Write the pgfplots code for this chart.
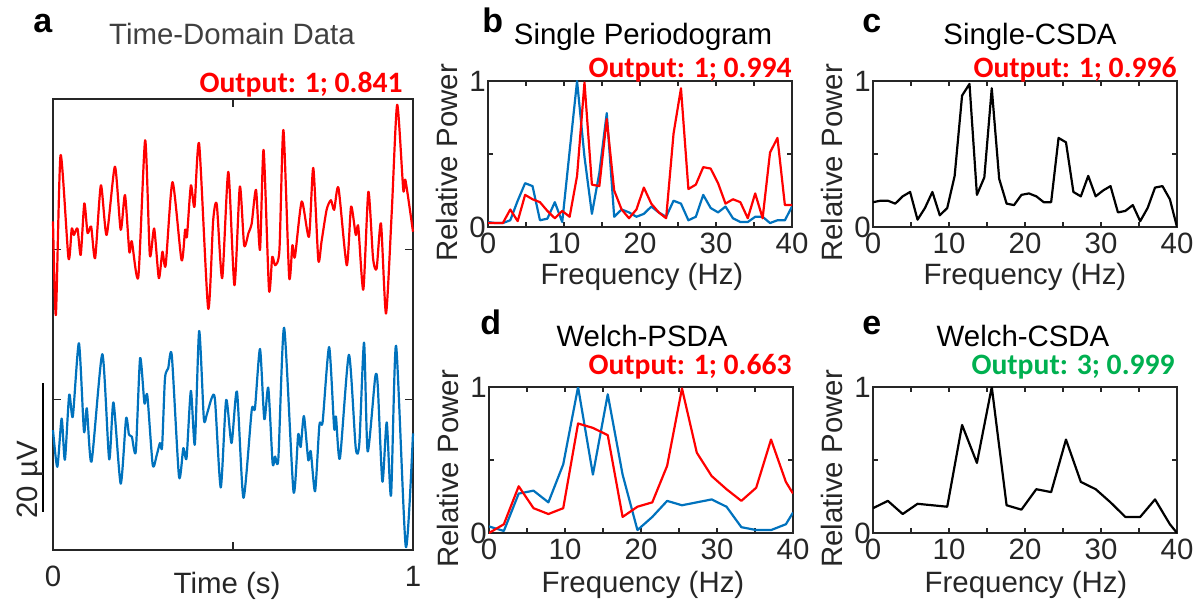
\documentclass[border=0pt]{standalone}
\usepackage{fontspec}
\setmainfont{Liberation Sans}
\newfontfamily\calibri{Carlito}
\usepackage{pgfplots}
\usepackage{pgfplotstable}
\pgfplotsset{compat=1.18}

\definecolor{mred}{rgb}{1,0,0}
\definecolor{mblue}{rgb}{0,0.447,0.741}
\definecolor{ogreen}{RGB}{0,176,80}
\definecolor{axgray}{rgb}{0.15,0.15,0.15}
\newcommand\lbl{\fontsize{14.7}{16}\selectfont}
\newcommand\outp{\calibri\bfseries\fontsize{14.8}{16}\selectfont}
\newcommand\letter{\bfseries\fontsize{17}{19}\selectfont}

% single periodogram / single-CSDA (df = 0.977 Hz)
\pgfplotstableread{
f      blue  red   csda
0      0.034 0.027 0.17
0.977  0.027 0.027 0.18
1.953  0.027 0.027 0.18
2.930  0.046 0.12  0.16
3.906  0.18  0.04  0.21
4.883  0.30  0.22  0.24
5.859  0.28  0.19  0.05
6.836  0.046 0.17  0.13
7.813  0.057 0.11  0.24
8.789  0.17  0.06  0.08
9.766  0.034 0.11  0.13
10.742 0.52  0.07  0.35
11.719 1.00  0.35  0.90
12.695 0.48  0.99  0.98
13.672 0.09  0.29  0.22
14.648 0.37  0.28  0.34
15.625 0.78  0.74  0.95
16.602 0.07  0.25  0.33
17.578 0.12  0.12  0.16
18.555 0.10  0.06  0.15
19.531 0.07  0.12  0.22
20.508 0.09  0.27  0.23
21.484 0.14  0.16  0.21
22.461 0.10  0.10  0.17
23.438 0.07  0.06  0.17
24.414 0.18  0.64  0.61
25.391 0.16  0.95  0.58
26.367 0.046 0.26  0.24
27.344 0.07  0.29  0.21
28.320 0.22  0.41  0.35
29.297 0.13  0.40  0.21
30.273 0.10  0.30  0.25
31.250 0.14  0.16  0.28
32.227 0.06  0.19  0.10
33.203 0.034 0.17  0.11
34.180 0.034 0.06  0.15
35.156 0.07  0.23  0.04
36.133 0.07  0.06  0.13
37.109 0.027 0.51  0.27
38.086 0.046 0.61  0.28
39.063 0.046 0.15  0.19
40     0.14  0.15  0.00
}\single

% Welch-PSDA / Welch-CSDA (df = 1.953 Hz)
\pgfplotstableread{
f      blue  red   csda
0      0.045 0.00  0.17
1.953  0.014 0.06  0.22
3.906  0.27  0.32  0.13
5.859  0.29  0.17  0.20
7.813  0.21  0.13  0.19
9.766  0.47  0.17  0.18
11.719 1.00  0.75  0.74
13.672 0.40  0.72  0.48
15.625 0.95  0.67  1.00
17.578 0.40  0.11  0.19
19.531 0.02  0.18  0.16
21.484 0.11  0.21  0.30
23.438 0.22  0.46  0.28
25.391 0.19  0.99  0.64
27.344 0.21  0.55  0.35
29.297 0.23  0.39  0.30
31.250 0.18  0.30  0.21
33.203 0.04  0.22  0.11
35.156 0.02  0.31  0.11
37.109 0.02  0.64  0.23
39.063 0.06  0.35  0.06
40     0.14  0.27  0.00
}\welch

\pgfplotsset{
  box/.style={scale only axis, tick align=inside, tick pos=both,
    axis line style={axgray, line width=0.8pt}, tick style={axgray, line width=0.8pt},
    ticklabel style={font=\lbl, text=axgray}},
  spec/.style={box, width=152pt, height=73pt, xmin=0, xmax=40, ymin=0, ymax=1,
    xtick={0,5,...,40}, xticklabels={0,,10,,20,,30,,40},
    ytick={0,0.5,1}, yticklabels={0,,1}, major tick length=2.5pt,
    xticklabel style={inner sep=0pt, yshift=-3pt},
    yticklabel style={inner sep=0pt, xshift=-1pt}},
  trace/.style={line width=1.1pt, line join=round}
}

\begin{document}
\begin{tikzpicture}
\path[use as bounding box] (0,0) rectangle (601pt,-301.5pt);

% a: time-domain data (µV, offset traces)
\begin{axis}[box, at={(26.5pt,-275pt)}, anchor=south west, width=180pt, height=225.5pt,
  xmin=0, xmax=1, ymin=0, ymax=70, xtick={0,0.5,1}, xticklabels={0,,1},
  ytick={23.333,46.667}, yticklabels={,}, major tick length=4pt,
  xticklabel style={inner sep=0pt, yshift=-8pt}, clip=false]
\addplot[trace, mred, smooth, tension=0.4] coordinates {
(0.000,51.0)(0.008,36.5)(0.021,61.3)(0.043,45.3)(0.052,49.9)(0.058,48.9)(0.068,49.9)
(0.077,45.8)(0.087,53.8)(0.096,49.2)(0.106,50.2)(0.117,45.3)(0.133,56.6)(0.149,48.9)
(0.172,59.5)(0.188,49.7)(0.200,55.1)(0.212,46.3)(0.219,47.9)(0.237,42.4)(0.256,63.6)
(0.269,45.8)(0.281,49.9)(0.294,42.2)(0.304,46.3)(0.313,44.2)(0.332,57.1)(0.357,45.0)
(0.367,49.7)(0.372,48.6)(0.383,56.6)(0.393,53.3)(0.406,63.0)(0.431,37.5)(0.445,51.2)
(0.455,53.6)(0.470,42.2)(0.487,58.7)(0.504,41.1)(0.519,56.4)(0.531,47.3)(0.543,49.2)
(0.552,50.7)(0.564,55.9)(0.575,46.6)(0.585,62.1)(0.600,40.4)(0.609,45.5)(0.617,44.2)
(0.629,46.6)(0.640,65.2)(0.656,42.4)(0.665,47.3)(0.672,45.5)(0.691,54.1)(0.711,48.6)
(0.723,59.3)(0.737,45.0)(0.746,47.9)(0.760,52.8)(0.772,54.3)(0.781,52.8)(0.793,56.2)
(0.816,44.2)(0.828,53.3)(0.841,48.9)(0.848,50.2)(0.862,40.4)(0.876,55.6)(0.889,45.3)
(0.899,43.7)(0.911,50.7)(0.925,36.7)(0.941,52.5)(0.956,69.1)(0.973,55.9)(0.979,57.4)
(1.000,49.4)};
\addplot[trace, mblue, smooth, tension=0.4] coordinates {
(0.000,18.6)(0.012,12.9)(0.024,20.4)(0.033,14.0)(0.045,24.1)(0.055,20.7)(0.072,32.1)
(0.086,18.4)(0.094,22.0)(0.107,13.7)(0.137,30.4)(0.156,14.1)(0.168,22.9)(0.188,10.3)
(0.203,20.4)(0.211,17.9)(0.219,17.6)(0.230,15.3)(0.242,29.8)(0.254,22.8)(0.262,24.0)
(0.277,13.2)(0.288,14.7)(0.297,16.6)(0.303,16.0)(0.311,26.6)(0.320,28.2)(0.330,30.2)
(0.350,11.4)(0.362,15.8)(0.371,14.3)(0.383,24.7)(0.394,16.4)(0.406,34.0)(0.419,20.4)
(0.427,21.0)(0.441,23.6)(0.450,23.3)(0.466,9.7)(0.481,23.3)(0.496,16.6)(0.511,24.6)
(0.529,8.1)(0.552,21.7)(0.561,22.0)(0.575,31.2)(0.587,20.3)(0.598,25.2)(0.610,13.5)
(0.617,14.5)(0.626,14.2)(0.642,34.5)(0.668,9.1)(0.681,17.9)(0.688,16.0)(0.697,20.8)
(0.709,14.0)(0.716,15.3)(0.728,9.1)(0.740,19.4)(0.749,19.9)(0.767,31.5)(0.781,18.9)
(0.786,20.7)(0.797,14.2)(0.822,30.3)(0.841,15.8)(0.851,16.6)(0.864,32.2)(0.874,15.3)
(0.895,26.8)(0.902,25.6)(0.915,10.6)(0.927,19.8)(0.939,8.5)(0.953,31.7)(0.980,0.5)
(1.000,18.1)};
% 20 µV scale bar
\draw[black, line width=0.8pt] (axis cs:-0.028,5.9) -- (axis cs:-0.028,25.9);
\end{axis}

% b: single periodogram
\begin{axis}[spec, at={(244pt,-113.5pt)}, anchor=south west]
\addplot[trace, mblue] table[x=f, y=blue] {\single};
\addplot[trace, mred] table[x=f, y=red] {\single};
\end{axis}

% c: single-CSDA
\begin{axis}[spec, at={(436.5pt,-113.5pt)}, anchor=south west]
\addplot[trace, black] table[x=f, y=csda] {\single};
\end{axis}

% d: Welch-PSDA
\begin{axis}[spec, at={(244.5pt,-266.5pt)}, anchor=south west]
\addplot[trace, mblue] table[x=f, y=blue] {\welch};
\addplot[trace, mred] table[x=f, y=red] {\welch};
\end{axis}

% e: Welch-CSDA
\begin{axis}[spec, at={(436.5pt,-266.5pt)}, anchor=south west]
\addplot[trace, black] table[x=f, y=csda] {\welch};
\end{axis}

\begin{scope}[x=0.5pt, y=-0.5pt]
% panel letters
\node[anchor=base west, inner sep=0pt, font=\letter] at (33,33) {a};
\node[anchor=base west, inner sep=0pt, font=\letter] at (482,33) {b};
\node[anchor=base west, inner sep=0pt, font=\letter] at (862,33) {c};
\node[anchor=base west, inner sep=0pt, font=\letter] at (480,335) {d};
\node[anchor=base west, inner sep=0pt, font=\letter] at (862,335) {e};
% titles
\node[anchor=base, inner sep=0pt, font=\lbl, text=black!75] at (232,45) {Time-Domain Data};
\node[anchor=base, inner sep=0pt, font=\lbl] at (643,45) {Single Periodogram};
\node[anchor=base, inner sep=0pt, font=\lbl] at (1030,45) {Single-CSDA};
\node[anchor=base, inner sep=0pt, font=\lbl] at (642,347) {Welch-PSDA};
\node[anchor=base, inner sep=0pt, font=\lbl] at (1023,347) {Welch-CSDA};
% classifier outputs
\node[anchor=base east, inner sep=0pt, font=\outp, text=mred] at (403,93) {Output: 1; 0.841};
\node[anchor=base east, inner sep=0pt, font=\outp, text=mred] at (792,78) {Output: 1; 0.994};
\node[anchor=base east, inner sep=0pt, font=\outp, text=mred] at (1177,78) {Output: 1; 0.996};
\node[anchor=base east, inner sep=0pt, font=\outp, text=mred] at (792,375) {Output: 1; 0.663};
\node[anchor=base east, inner sep=0pt, font=\outp, text=ogreen] at (1175,375) {Output: 3; 0.999};
% axis labels
\node[anchor=base, inner sep=0pt, font=\lbl, text=axgray] at (227,593) {Time (s)};
\node[anchor=base, inner sep=0pt, font=\lbl, text=axgray, rotate=90] at (37,480) {20 µV};
\foreach \xx/\yy in {457/163, 842/163, 458/469, 842/469}
  \node[anchor=base, inner sep=0pt, font=\lbl, text=axgray, rotate=90] at (\xx,\yy) {Relative Power};
\foreach \xx/\yy in {642/285, 1025/285, 643/592, 1026/592}
  \node[anchor=base, inner sep=0pt, font=\lbl, text=axgray] at (\xx,\yy) {Frequency (Hz)};
\end{scope}
\end{tikzpicture}
\end{document}
